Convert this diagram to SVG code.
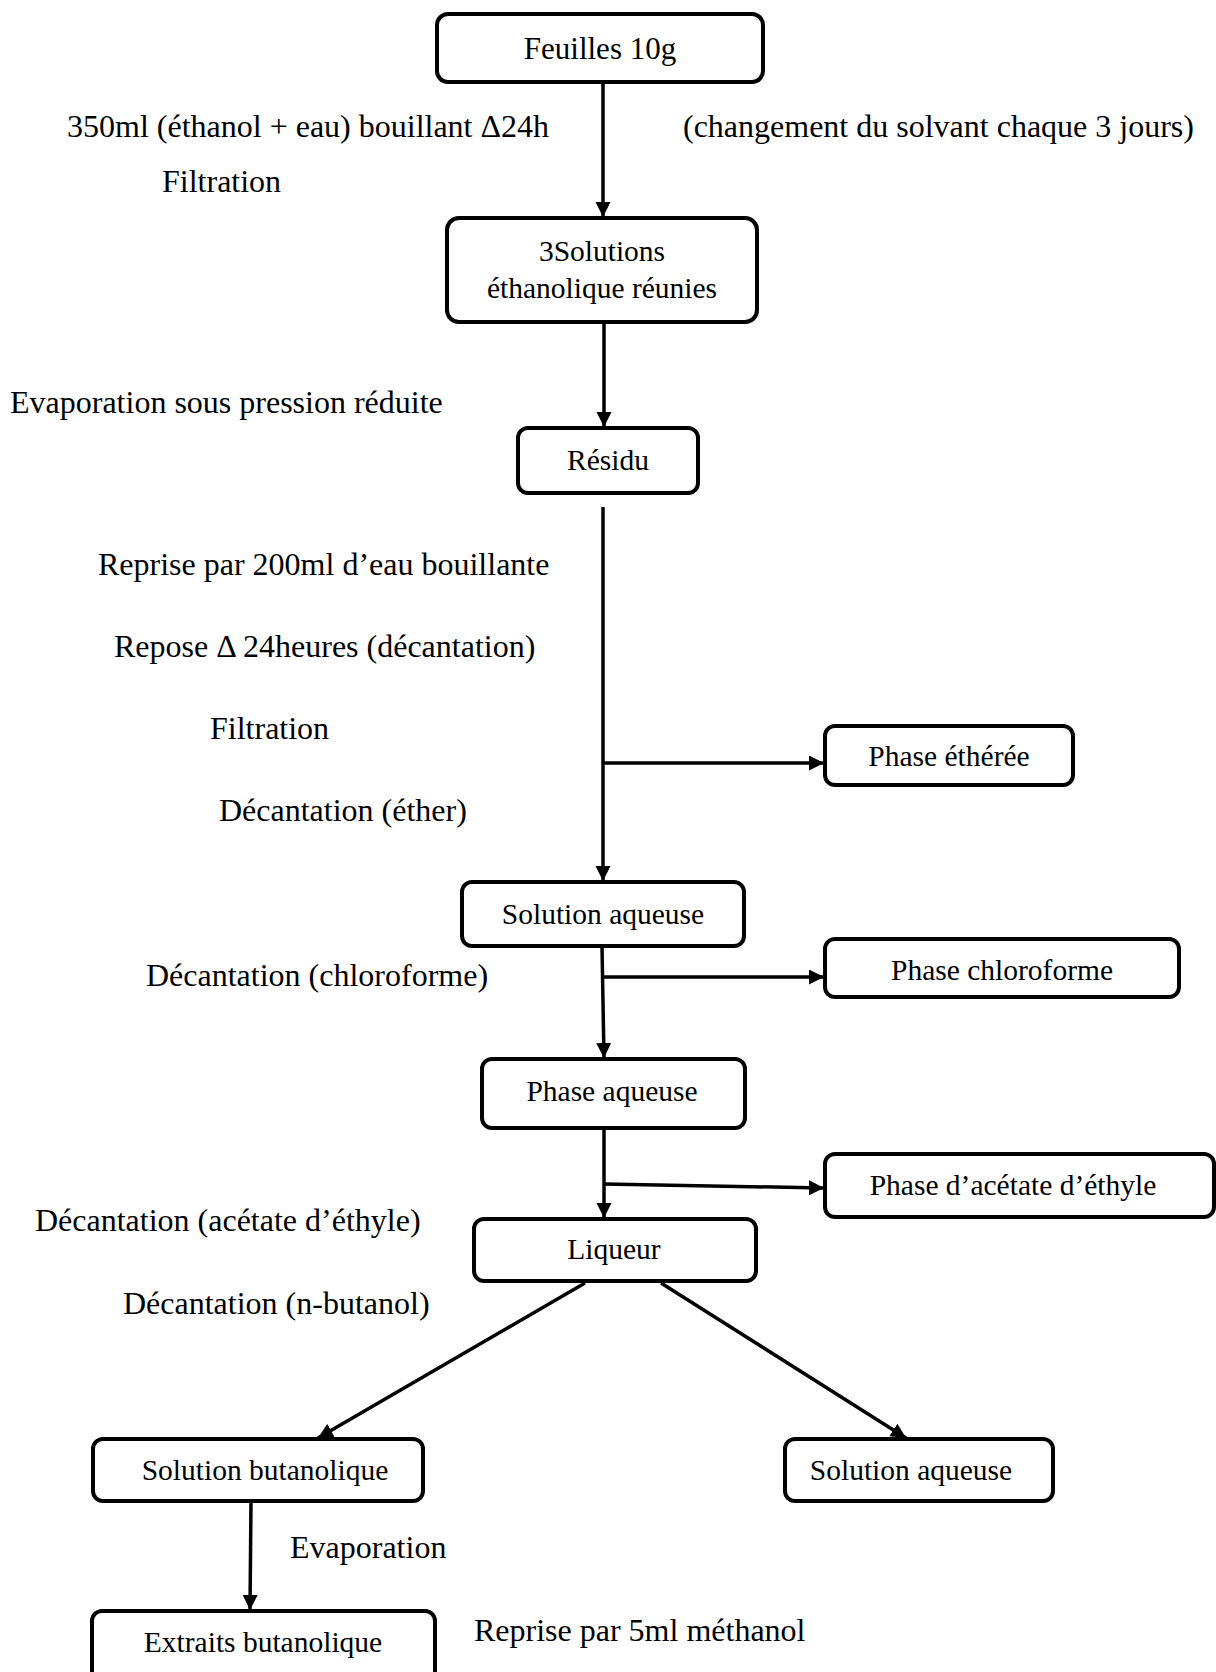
<svg xmlns="http://www.w3.org/2000/svg" width="1216" height="1672" viewBox="0 0 1216 1672">
<style>
.box{fill:#fff;stroke:#000;stroke-width:4}
.nt{font-family:"Liberation Serif","Times New Roman",serif;font-size:29.5px;fill:#000;text-anchor:middle}
.lb{font-family:"Liberation Serif","Times New Roman",serif;font-size:32px;fill:#000}
.cn{fill:none;stroke:#000;stroke-width:3.5}
</style>
<defs>
<marker id="ah" markerUnits="userSpaceOnUse" markerWidth="16" markerHeight="16" refX="15" refY="7.5" orient="auto">
<path d="M0,0 L15,7.5 L0,15 z" fill="#000"/>
</marker>
</defs>
<rect width="1216" height="1672" fill="#fff"/>

<g id="connectors">
<line class="cn" x1="603" y1="82" x2="603" y2="217" marker-end="url(#ah)"/>
<line class="cn" x1="604" y1="322" x2="604" y2="427" marker-end="url(#ah)"/>
<line class="cn" x1="603" y1="507" x2="603" y2="881" marker-end="url(#ah)"/>
<line class="cn" x1="603" y1="763" x2="824" y2="763" marker-end="url(#ah)"/>
<line class="cn" x1="602" y1="946" x2="604" y2="1058" marker-end="url(#ah)"/>
<line class="cn" x1="603" y1="977" x2="824" y2="977" marker-end="url(#ah)"/>
<line class="cn" x1="604" y1="1130" x2="604" y2="1218" marker-end="url(#ah)"/>
<line class="cn" x1="604" y1="1184" x2="824" y2="1188" marker-end="url(#ah)"/>
<line class="cn" x1="585" y1="1283" x2="318" y2="1438" marker-end="url(#ah)"/>
<line class="cn" x1="661" y1="1283" x2="906" y2="1438" marker-end="url(#ah)"/>
<line class="cn" x1="251" y1="1502" x2="250" y2="1610" marker-end="url(#ah)"/>
</g>

<g id="n-feuilles"><rect class="box" x="437" y="14" width="326" height="68" rx="11"/><text class="nt" x="600" y="59" style="font-size:31px">Feuilles 10g</text></g>
<g id="n-solutions"><rect class="box" x="447" y="218" width="310" height="104" rx="12"/><text class="nt" x="602" y="261">3Solutions</text><text class="nt" x="602" y="298">éthanolique réunies</text></g>
<g id="n-residu"><rect class="box" x="518" y="428" width="180" height="65" rx="10"/><text class="nt" x="608" y="470">Résidu</text></g>
<g id="n-ether"><rect class="box" x="825" y="726" width="248" height="59" rx="10"/><text class="nt" x="949" y="766">Phase éthérée</text></g>
<g id="n-solaq1"><rect class="box" x="462" y="882" width="282" height="64" rx="10"/><text class="nt" x="603" y="924">Solution aqueuse</text></g>
<g id="n-chloro"><rect class="box" x="825" y="939" width="354" height="58" rx="10"/><text class="nt" x="1002" y="980">Phase chloroforme</text></g>
<g id="n-phaq"><rect class="box" x="482" y="1059" width="263" height="69" rx="10"/><text class="nt" x="612" y="1101">Phase aqueuse</text></g>
<g id="n-acetate"><rect class="box" x="825" y="1154" width="389" height="63" rx="10"/><text class="nt" x="1013" y="1195">Phase d’acétate d’éthyle</text></g>
<g id="n-liqueur"><rect class="box" x="474" y="1219" width="282" height="62" rx="10"/><text class="nt" x="614" y="1259">Liqueur</text></g>
<g id="n-solbut"><rect class="box" x="93" y="1439" width="330" height="62" rx="10"/><text class="nt" x="265" y="1480">Solution butanolique</text></g>
<g id="n-solaq2"><rect class="box" x="785" y="1439" width="268" height="62" rx="10"/><text class="nt" x="911" y="1480">Solution aqueuse</text></g>
<g id="n-extraits"><rect class="box" x="92" y="1611" width="343" height="80" rx="10"/><text class="nt" x="263" y="1652">Extraits butanolique</text></g>

<g id="labels">
<text class="lb" x="67" y="137">350ml (éthanol + eau) bouillant Δ24h</text>
<text class="lb" x="683" y="137">(changement du solvant chaque 3 jours)</text>
<text class="lb" x="162" y="192">Filtration</text>
<text class="lb" x="10" y="413">Evaporation sous pression réduite</text>
<text class="lb" x="98" y="575">Reprise par 200ml d’eau bouillante</text>
<text class="lb" x="114" y="657">Repose Δ 24heures (décantation)</text>
<text class="lb" x="210" y="739">Filtration</text>
<text class="lb" x="219" y="821">Décantation (éther)</text>
<text class="lb" x="146" y="986">Décantation (chloroforme)</text>
<text class="lb" x="35" y="1231">Décantation (acétate d’éthyle)</text>
<text class="lb" x="123" y="1314">Décantation (n-butanol)</text>
<text class="lb" x="290" y="1558">Evaporation</text>
<text class="lb" x="474" y="1641">Reprise par 5ml méthanol</text>
</g>
</svg>
